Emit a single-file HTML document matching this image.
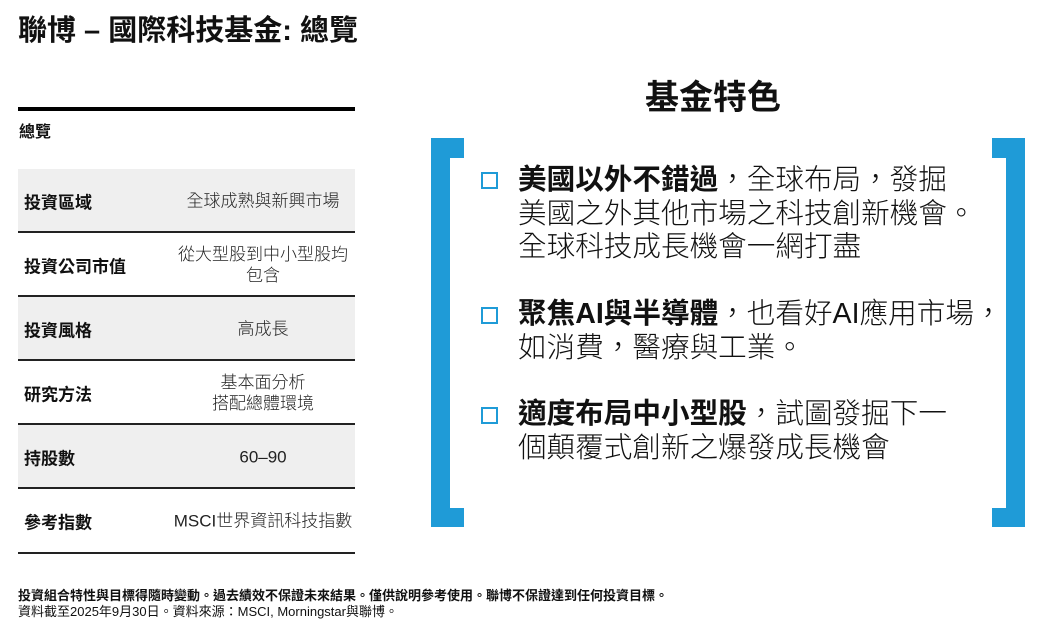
<!DOCTYPE html>
<html><head><meta charset="utf-8"><style>
*{margin:0;padding:0;box-sizing:border-box}
body{width:1063px;height:627px;background:#fff;position:relative;overflow:hidden;font-family:"Liberation Sans","Noto Sans CJK TC",sans-serif;color:#111}
.a{position:absolute;white-space:nowrap}
.row{position:absolute;left:18px;width:337px;height:63px}
.g{background:#efefef}
.ln{position:absolute;left:18px;width:337px;height:2px;background:#222}
.k{position:absolute;left:6px;font-weight:bold;font-size:17px;top:50%;transform:translateY(-50%)}
.v{position:absolute;left:140px;width:210px;text-align:center;font-size:17px;top:50%;transform:translateY(-50%);line-height:21px;color:#222;font-weight:300}
.b{position:absolute;background:#1f9bd7}
.sq{position:absolute;width:17px;height:17px;border:2.5px solid #1f9bd7;left:481px}
.t{position:absolute;left:518px;font-size:28.6px;line-height:33.5px;white-space:nowrap;color:#111;font-weight:300}
.t b{font-weight:bold}
</style></head><body>
<div class="a" style="left:18px;top:7px;font-size:29px;font-weight:bold">聯博 – 國際科技基金: 總覽</div>
<div style="position:absolute;left:18px;top:107px;width:337px;height:4px;background:#000"></div>
<div class="a" style="left:19px;top:118px;font-size:16px;font-weight:bold">總覽</div>

<div class="row g" style="top:169px"><div class="k">投資區域</div><div class="v">全球成熟與新興市場</div></div>
<div class="ln" style="top:231px"></div>
<div class="row" style="top:233px"><div class="k">投資公司市值</div><div class="v">從大型股到中小型股均<br>包含</div></div>
<div class="ln" style="top:295px"></div>
<div class="row g" style="top:297px"><div class="k">投資風格</div><div class="v">高成長</div></div>
<div class="ln" style="top:359px"></div>
<div class="row" style="top:361px"><div class="k">研究方法</div><div class="v">基本面分析<br>搭配總體環境</div></div>
<div class="ln" style="top:423px"></div>
<div class="row g" style="top:425px"><div class="k">持股數</div><div class="v">60–90</div></div>
<div class="ln" style="top:487px"></div>
<div class="row" style="top:489px"><div class="k">參考指數</div><div class="v" style="left:140px;width:210px">MSCI世界資訊科技指數</div></div>
<div class="ln" style="top:552px"></div>

<div class="a" style="left:18px;top:585px;font-size:13px;font-weight:bold">投資組合特性與目標得隨時變動。過去績效不保證未來結果。僅供說明參考使用。聯博不保證達到任何投資目標。</div>
<div class="a" style="left:18px;top:601px;font-size:13px">資料截至2025年9月30日。資料來源：MSCI, Morningstar與聯博。</div>

<div class="a" style="left:645px;top:70px;font-size:34px;font-weight:bold">基金特色</div>

<div class="b" style="left:431px;top:138px;width:19px;height:389px"></div>
<div class="b" style="left:431px;top:138px;width:33px;height:20px"></div>
<div class="b" style="left:431px;top:508px;width:33px;height:19px"></div>
<div class="b" style="left:1006px;top:138px;width:19px;height:389px"></div>
<div class="b" style="left:992px;top:138px;width:33px;height:20px"></div>
<div class="b" style="left:992px;top:508px;width:33px;height:19px"></div>

<div class="sq" style="top:172px"></div>
<div class="t" style="top:164px"><b>美國以外不錯過</b>，全球布局，發掘<br>美國之外其他市場之科技創新機會。<br>全球科技成長機會一網打盡</div>
<div class="sq" style="top:307px"></div>
<div class="t" style="top:298px"><b>聚焦AI與半導體</b>，也看好AI應用市場，<br>如消費，醫療與工業。</div>
<div class="sq" style="top:407px"></div>
<div class="t" style="top:398px"><b>適度布局中小型股</b>，試圖發掘下一<br>個顛覆式創新之爆發成長機會</div>
</body></html>
